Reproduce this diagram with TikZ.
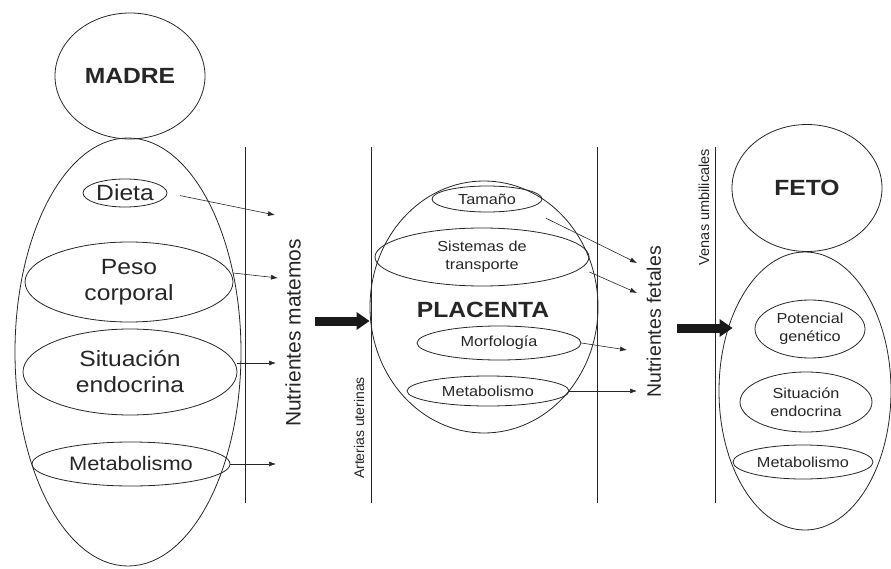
\documentclass[tikz,border=0pt]{standalone}
\usepackage{fontspec}
\setmainfont{Liberation Sans}[FakeStretch=1.12]
\newfontfamily\rotfont{Liberation Sans}
\usetikzlibrary{shapes.geometric,arrows.meta}

\newcommand{\fgrande}{\fontsize{22}{26}\selectfont}
\newcommand{\fmedia}{\fontsize{19.5}{24}\selectfont}
\newcommand{\fchica}{\fontsize{14.5}{18}\selectfont}

\begin{document}
\begin{tikzpicture}[x=1pt,y=-1pt,line width=0.8pt,
    ovalo/.style={draw=black!85,ellipse,inner sep=0pt,align=center,text=black!85},
    flecha/.style={draw=black!85,line width=0.6pt,-{Latex[length=7pt,width=5pt]}},
    gruesa/.style={draw=black!90,line width=9pt,-{Triangle[length=13pt,width=17pt]}},
    rotulo/.style={rotate=90,text=black!85}]
  \useasboundingbox (0,0) rectangle (891,569);

  % madre
  \node[ovalo,minimum width=226pt,minimum height=428pt] (cuerpomadre) at (128,352) {};
  \node[ovalo,minimum width=150pt,minimum height=126pt,font=\fgrande\bfseries] (madre) at (130,76) {MADRE};
  \node[ovalo,minimum width=84pt,minimum height=28pt,font=\fgrande] (dieta) at (125,193) {Dieta};
  \node[ovalo,minimum width=208pt,minimum height=80pt,font=\fgrande] (peso) at (129,282) {Peso\\corporal};
  \node[ovalo,minimum width=214pt,minimum height=86pt,font=\fgrande] (situacion) at (130,372) {Situación\\endocrina};
  \node[ovalo,minimum width=198pt,minimum height=44pt,font=\fmedia] (metabm) at (131,464) {Metabolismo};

  % placenta
  \node[ovalo,minimum width=228pt,minimum height=252pt] (placenta) at (484,307) {};
  \node[ovalo,minimum width=110pt,minimum height=26pt,font=\fchica] (tamano) at (487,199) {Tamaño};
  \node[ovalo,minimum width=214pt,minimum height=58pt,font=\fchica] (sistemas) at (482,257) {Sistemas de\\transporte};
  \node[text=black!85,font=\fgrande\bfseries] (titplacenta) at (483,310) {PLACENTA};
  \node[ovalo,minimum width=164pt,minimum height=34pt,font=\fchica] (morfologia) at (499,343) {Morfología};
  \node[ovalo,minimum width=162pt,minimum height=30pt,font=\fchica] (metabp) at (488,391) {Metabolismo};

  % feto
  \node[ovalo,minimum width=172pt,minimum height=278pt] (cuerpofeto) at (805,391) {};
  \node[ovalo,minimum width=150pt,minimum height=127pt,font=\fgrande\bfseries] (feto) at (807,188) {FETO};
  \node[ovalo,minimum width=110pt,minimum height=58pt,font=\fchica] (potencial) at (810,329) {Potencial\\genético};
  \node[ovalo,minimum width=132pt,minimum height=60pt,font=\fchica] (situacionf) at (806,402) {Situación\\endocrina};
  \node[ovalo,minimum width=140pt,minimum height=34pt,font=\fchica] (metabf) at (803,462) {Metabolismo};

  % divisiones
  \foreach \x in {245,371,597,715}
    \draw[black!85] (\x,147) -- (\x,503);

  % rotulos verticales
  \node[rotulo,font=\rotfont\fontsize{21}{24}\selectfont] (nutmat) at (293,333) {Nutrientes matemos};
  \node[rotulo,font=\rotfont\fontsize{19.5}{24}\selectfont] (nutfet) at (654,322) {Nutrientes fetales};
  \node[rotulo,font=\rotfont\fontsize{14}{16}\selectfont] (arterias) at (359,428) {Arterias uterinas};
  \node[rotulo,font=\rotfont\fontsize{14.5}{16}\selectfont] (venas) at (704,207) {Venas umbilicales};

  % puntas de las flechas
  \coordinate (m1) at (275,215);
  \coordinate (m2) at (278,278);
  \coordinate (m3) at (276,363);
  \coordinate (m4) at (276,464);
  \coordinate (p1) at (637,263);
  \coordinate (p2) at (637,293);
  \coordinate (p3) at (627,350);
  \coordinate (p4) at (637,391);

  \draw[flecha,shorten <=13pt] (dieta.east) -- (m1);
  \draw[flecha] ([yshift=9pt]peso.east) -- (m2);
  \draw[flecha] ([yshift=9pt]situacion.east) -- (m3);
  \draw[flecha] (metabm.east) -- (m4);
  \draw[flecha,shorten <=22pt] (tamano.south east) -- (p1);
  \draw[flecha] ([yshift=-15pt]sistemas.east) -- (p2);
  \draw[flecha] (morfologia.east) -- (p3);
  \draw[flecha] (metabp.east) -- (p4);

  % flechas gruesas
  \coordinate (g1) at (315,321);
  \coordinate (g2) at (677,328);
  \draw[gruesa] (g1) -- (g1 -| placenta.west);
  \draw[gruesa] (g2) -- ([xshift=14pt]g2 -| cuerpofeto.west);
\end{tikzpicture}
\end{document}
